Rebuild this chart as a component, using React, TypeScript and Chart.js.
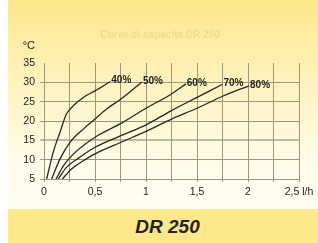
import React, { useEffect, useRef } from "react";
import { Chart, registerables } from "chart.js";

Chart.register(...registerables);

const chartTitle = "Curve di capacità DR 250";
const yUnit = "°C";
const bandTitle = "DR 250";

const seriesNames = ["40%", "50%", "60%", "70%", "80%"];

const flow40 = [0.026, 0.09, 0.157, 0.22, 0.29, 0.385, 0.5, 0.65];
const temp40 = [5, 11.9, 17.1, 21.8, 24.0, 26.1, 27.8, 30.2];

const flow50 = [0.075, 0.157, 0.255, 0.385, 0.5, 0.614, 0.755, 0.96];
const temp50 = [5, 10.2, 14.5, 17.9, 20.5, 23.1, 25.7, 30.1];

const flow60 = [0.118, 0.19, 0.29, 0.5, 0.755, 1.0, 1.25, 1.39];
const temp60 = [5, 8.4, 11.5, 15.8, 19.4, 23.3, 27.0, 29.6];

const flow70 = [0.14, 0.22, 0.35, 0.5, 0.755, 1.0, 1.25, 1.5, 1.75];
const temp70 = [5, 8.0, 10.6, 13.2, 16.2, 19.0, 22.7, 26.1, 29.5];

const flow80 = [0.18, 0.27, 0.385, 0.5, 0.755, 1.0, 1.25, 1.5, 1.75, 2.01];
const temp80 = [5, 7.6, 9.7, 11.5, 14.5, 17.3, 20.5, 23.3, 26.4, 29.1];

const xTickValues = [0, 0.5, 1, 1.5, 2, 2.5];
const xTickLabels = ["0", "0,5", "1", "1,5", "2", "2,5 l/h"];

const allFlows = [flow40, flow50, flow60, flow70, flow80];
const allTemps = [temp40, temp50, temp60, temp70, temp80];

const FONT = "'Liberation Sans', Arial, sans-serif";
const GRID = "#9d977b";

export default function App() {
  const ref = useRef<HTMLCanvasElement | null>(null);

  useEffect(() => {
    document.body.style.margin = "0";
    const canvas = ref.current;
    if (!canvas) return;

    const labelPlugin = {
      id: "endLabels",
      afterDatasetsDraw(chart: any) {
        const ctx = chart.ctx;
        ctx.save();
        ctx.font = `bold 10px ${FONT}`;
        ctx.fillStyle = "#222";
        ctx.textAlign = "left";
        ctx.textBaseline = "middle";
        chart.data.datasets.forEach((ds: any, i: number) => {
          const meta = chart.getDatasetMeta(i);
          const pt = meta.data[meta.data.length - 1];
          if (pt) ctx.fillText(ds.label, pt.x + 1, pt.y - 1);
        });
        ctx.restore();
      },
      afterDraw(chart: any) {
        const ctx = chart.ctx;
        const area = chart.chartArea;
        ctx.save();
        ctx.font = `11px ${FONT}`;
        ctx.fillStyle = "#222";
        ctx.textAlign = "right";
        ctx.textBaseline = "middle";
        ctx.fillText(yUnit, area.left - 9, area.top - 17);
        ctx.font = `bold 10px ${FONT}`;
        ctx.fillStyle = "rgba(170,150,90,0.18)";
        ctx.textAlign = "center";
        ctx.fillText(chartTitle, 152, 35);
        ctx.restore();
      },
    };

    const chart = new Chart(canvas, {
      type: "scatter",
      data: {
        datasets: seriesNames.map((name, i) => ({
          label: name,
          data: allFlows[i].map((x, j) => ({ x, y: allTemps[i][j] })),
          showLine: true,
          borderColor: "#262626",
          borderWidth: 1.3,
          pointRadius: 0,
          cubicInterpolationMode: "monotone" as const,
        })),
      },
      options: {
        animation: false,
        responsive: false,
        events: [],
        layout: { padding: { top: 63, right: 19, left: 0, bottom: 0 } },
        plugins: {
          legend: { display: false },
          tooltip: { enabled: false },
          title: { display: false },
        },
        scales: {
          x: {
            type: "linear",
            min: 0,
            max: 2.5,
            afterFit: (s: any) => {
              s.height = 29;
            },
            afterBuildTicks: (s: any) => {
              const t = [];
              for (let v = 0; v <= 2.5001; v += 0.25) t.push({ value: Math.round(v * 100) / 100 });
              s.ticks = t;
            },
            ticks: {
              autoSkip: false,
              maxRotation: 0,
              padding: 4,
              color: "#222",
              font: { family: FONT, size: 10.5 },
              callback: (v: any) => {
                const idx = xTickValues.findIndex((t) => Math.abs(t - Number(v)) < 1e-6);
                return idx >= 0 ? xTickLabels[idx] : "";
              },
            },
            grid: { color: GRID, lineWidth: 1, tickLength: 3 },
            border: { color: GRID, width: 1 },
          },
          y: {
            type: "linear",
            min: 5,
            max: 35,
            afterFit: (s: any) => {
              s.width = 36;
            },
            ticks: {
              stepSize: 5,
              padding: 5,
              color: "#222",
              font: { family: FONT, size: 10.5 },
            },
            grid: {
              tickLength: 4,
              color: (c: any) =>
                c.tick && c.tick.value === 35
                  ? "rgba(0,0,0,0)"
                  : c.tick && c.tick.value === 15
                  ? "rgba(150,145,120,0.6)"
                  : GRID,
              lineWidth: (c: any) => (c.tick && c.tick.value === 15 ? 2 : 1),
            },
            border: { color: GRID, width: 1 },
          },
        },
      },
      plugins: [labelPlugin],
    });
    return () => chart.destroy();
  }, []);

  return (
    <div
      style={{
        position: "absolute",
        left: 8,
        top: 0,
        width: 310,
        height: 243,
        background: "linear-gradient(to bottom, #fde78b 0px, #fff2bd 80px, #fffbe8 160px, #fffdf3 209px)",
        overflow: "hidden",
      }}
    >
      <canvas ref={ref} width={310} height={208} style={{ position: "absolute", left: 0, top: 0, width: 310, height: 208 }} />
      <div
        style={{
          position: "absolute",
          left: 0,
          top: 209,
          width: 310,
          height: 34,
          background: "#fde88c",
          boxSizing: "border-box",
          paddingLeft: 9,
          textAlign: "center",
          lineHeight: "36px",
          fontFamily: FONT,
          fontWeight: "bold",
          fontStyle: "italic",
          fontSize: 19,
          color: "#222",
        }}
      >
        {bandTitle}
      </div>
    </div>
  );
}
